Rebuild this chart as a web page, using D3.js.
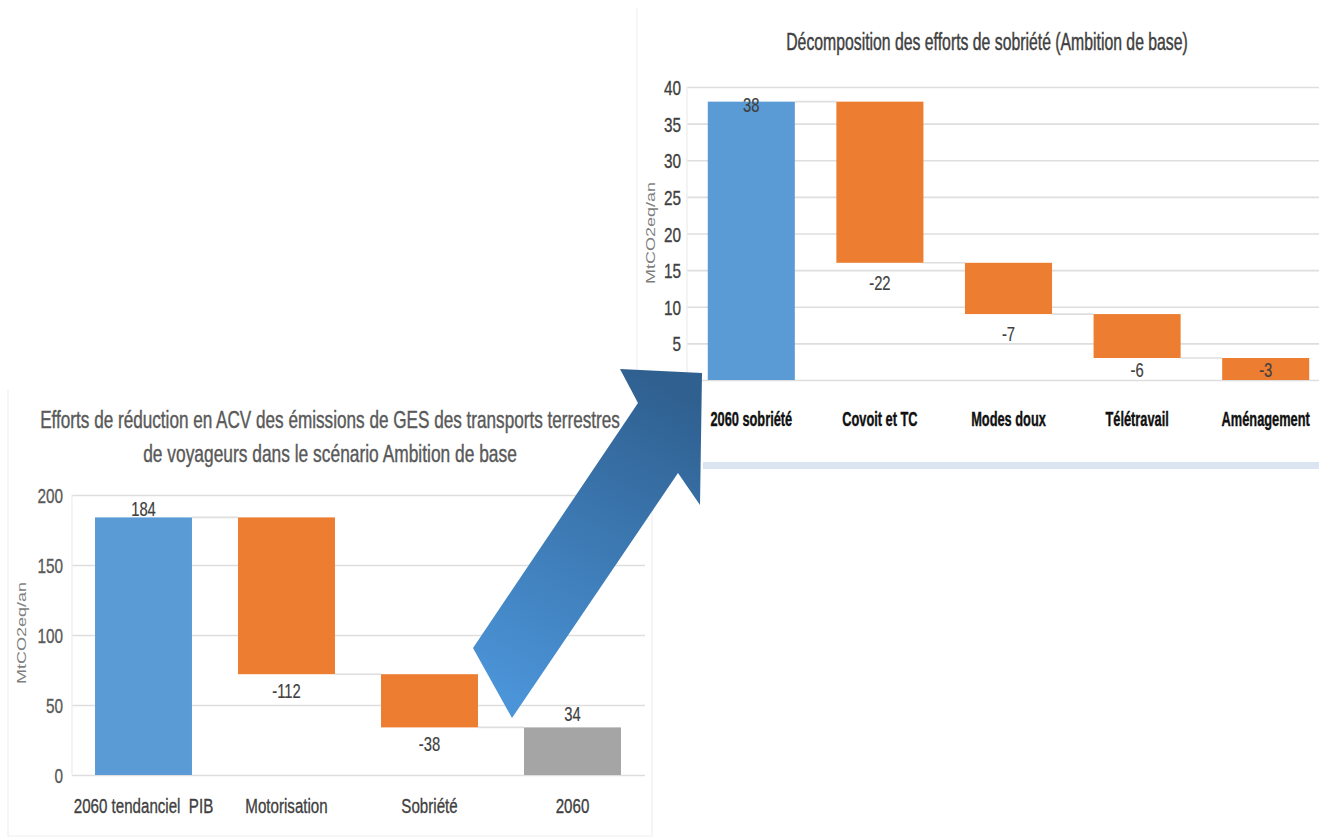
<!DOCTYPE html>
<html lang="fr">
<head>
<meta charset="utf-8">
<script src="https://cdn.jsdelivr.net/npm/d3@7"></script>
<style>
  html, body { margin: 0; padding: 0; background: #ffffff; }
  svg { display: block; }
  text { font-family: "Liberation Sans", Arial, sans-serif; white-space: pre; }
</style>
</head>
<body>
<svg id="chart" width="1319" height="838"></svg>
<script>
// Main waterfall: life-cycle GHG emissions of passenger land transport
const mainCategories = ["2060 tendanciel  PIB", "Motorisation", "Sobriété", "2060"];
const mainValues = [184, -112, -38, 34];
const mainKinds = ["total", "delta", "delta", "total"];
const mainTicks = [0, 50, 100, 150, 200];

// Detail waterfall: breakdown of the sobriety effort
const detailCategories = ["2060 sobriété", "Covoit et TC", "Modes doux", "Télétravail", "Aménagement"];
const detailValues = [38, -22, -7, -6, -3];
const detailKinds = ["total", "delta", "delta", "delta", "delta"];
const detailTicks = [0, 5, 10, 15, 20, 25, 30, 35, 40];

const unitLabel = "MtCO2eq/an";

const COLORS = { total: "#5b9bd5", delta: "#ed7d31", final: "#a5a5a5" };
const GRID = "#dedede";

const svg = d3.select("#chart");

// Build waterfall segments from the signed values
function waterfall(cats, vals, kinds) {
  let run = 0;
  return cats.map((c, i) => {
    const v = vals[i];
    let lo, hi;
    if (kinds[i] === "total") { lo = 0; hi = v; run = v; }
    else { const start = run; run = run + v; lo = Math.min(start, run); hi = Math.max(start, run); }
    return { cat: c, value: v, kind: kinds[i], lo, hi, end: run, index: i };
  });
}

// Tall, narrow lettering: a small font stretched vertically
function tall(sel, size, sx, x, y) {
  sel.attr("font-size", size * sx)
     .attr("transform", `translate(${x},${y}) scale(1,${(1 / sx).toFixed(4)})`);
  return sel;
}

function label(g, x, y, s, o) {
  const t = g.append("text")
    .attr("text-anchor", o.anchor || "middle")
    .attr("font-weight", o.weight || "normal")
    .attr("fill", o.fill || "#595959")
    .attr("stroke", o.fill || "#595959")
    .attr("stroke-width", o.stroke || 0.25)
    .text(s);
  tall(t, o.size, o.sx || 1, x, y);
  return t;
}

// Title lines: natural width measured, then squeezed to the wanted width
function title(g, x, y, s, width, size, fill) {
  const t = g.append("text")
    .attr("text-anchor", "middle")
    .attr("fill", fill).attr("stroke", fill).attr("stroke-width", 0.3)
    .attr("font-size", size)
    .text(s);
  const natural = t.node().getComputedTextLength();
  const sx = width / natural;
  tall(t, size, sx, x, y);
}

function drawWaterfall(cfg) {
  const g = svg.append("g");
  const data = waterfall(cfg.categories, cfg.values, cfg.kinds);

  const x = d3.scaleBand().domain(cfg.categories).range(cfg.xRange)
    .paddingInner(cfg.padding).paddingOuter(cfg.padding / 2);
  const y = d3.scaleLinear().domain(cfg.yDomain).range(cfg.yRange);

  // gridlines + tick labels
  const yAxis = d3.axisLeft(y).tickValues(cfg.ticks).tickSize(-(cfg.gridEnd - cfg.xRange[0])).tickPadding(0);
  const ga = g.append("g").attr("transform", `translate(${cfg.xRange[0]},0)`).call(yAxis);
  ga.select(".domain").remove();
  ga.selectAll(".tick line").attr("stroke", GRID).attr("stroke-width", 1.6);
  ga.selectAll(".tick text").each(function () {
    const t = d3.select(this)
      .attr("x", null).attr("dy", null)
      .attr("text-anchor", "end")
      .attr("font-family", "Liberation Sans, Arial, sans-serif")
      .attr("fill", cfg.tickColor).attr("stroke", cfg.tickColor).attr("stroke-width", 0.25);
    tall(t, 21, 0.73, cfg.tickRight - cfg.xRange[0], cfg.tickDy);
  });

  // vertical axis line
  g.append("line")
    .attr("x1", cfg.xRange[0]).attr("x2", cfg.xRange[0])
    .attr("y1", y(cfg.yDomain[1])).attr("y2", y(0))
    .attr("stroke", "#ececec").attr("stroke-width", 1.2);

  // connectors between consecutive bars
  g.selectAll("line.conn").data(data.slice(0, -1)).join("line")
    .attr("class", "conn")
    .attr("x1", d => x(d.cat) + x.bandwidth())
    .attr("x2", d => x(cfg.categories[d.index + 1]))
    .attr("y1", d => y(d.end)).attr("y2", d => y(d.end))
    .attr("stroke", GRID).attr("stroke-width", 1.6);

  // bars
  g.selectAll("rect.bar").data(data).join("rect")
    .attr("class", "bar")
    .attr("x", d => x(d.cat))
    .attr("width", x.bandwidth())
    .attr("y", d => y(d.hi))
    .attr("height", d => y(d.lo) - y(d.hi))
    .attr("fill", d => d.kind === "delta" ? COLORS.delta
      : (d.index === data.length - 1 && d.index > 0 ? COLORS.final : COLORS.total));

  // value labels
  data.forEach(d => {
    const cx = x(d.cat) + x.bandwidth() / 2;
    let by;
    if (d.kind === "total") by = y(d.hi) + cfg.totalDy[d.index === 0 ? 0 : 1];
    else by = Math.min(y(d.lo) + cfg.deltaGap, y(0) - 3);
    label(g, cx, by, String(d.value), { size: 20, sx: 0.74, fill: cfg.valueColor, stroke: 0.15 });
  });

  // category labels
  const xAxis = d3.axisBottom(x).tickSize(0).tickPadding(0);
  const gx = g.append("g").attr("transform", `translate(0,${cfg.catBaseline})`).call(xAxis);
  gx.select(".domain").remove();
  gx.selectAll(".tick text").each(function () {
    const t = d3.select(this)
      .attr("y", null).attr("dy", null)
      .attr("font-weight", cfg.catWeight)
      .attr("font-family", "Liberation Sans, Arial, sans-serif")
      .attr("fill", cfg.catColor).attr("stroke", cfg.catColor).attr("stroke-width", 0.25)
      .style("white-space", "pre");
    tall(t, 21, cfg.catSx, 0, 0);
  });

  // unit label
  g.append("text")
    .attr("transform", `translate(${cfg.unitPos[0]},${cfg.unitPos[1]}) rotate(-90) scale(1.5,1)`)
    .attr("text-anchor", "middle")
    .attr("dy", "0.35em")
    .attr("font-size", 12)
    .attr("font-family", "DejaVu Sans, Verdana, sans-serif")
    .attr("fill", "#7f7f7f")
    .text(unitLabel);

  // title lines
  cfg.title.forEach(t => title(g, t.x, t.y, t.text, t.len, 24, cfg.titleColor));
  return g;
}

// chart frames
svg.append("path").attr("d", "M8,390V836H652V468")
  .attr("fill", "none").attr("stroke", "#efefef").attr("stroke-width", 1.2);
svg.append("line").attr("x1", 637).attr("x2", 637).attr("y1", 8).attr("y2", 468)
  .attr("stroke", "#f0f0f0").attr("stroke-width", 1.2);
svg.append("rect").attr("x", 703).attr("y", 462).attr("width", 620).attr("height", 7)
  .attr("fill", "#dbe5f1");

drawWaterfall({
  categories: mainCategories, values: mainValues, kinds: mainKinds, ticks: mainTicks,
  xRange: [72, 644], padding: 0.322, gridEnd: 645,
  yDomain: [0, 200], yRange: [775, 495],
  tickRight: 63, tickDy: 7.5, tickColor: "#595959",
  totalDy: [-1, -6], deltaGap: 24, valueColor: "#404040",
  catBaseline: 813, catSx: 0.72, catWeight: "normal", catColor: "#404040",
  unitPos: [22, 633], titleColor: "#595959",
  title: [
    { text: "Efforts de réduction en ACV des émissions de GES des transports terrestres", x: 330, y: 428, len: 580 },
    { text: "de voyageurs dans le scénario Ambition de base", x: 330, y: 462, len: 374 }
  ]
});

drawWaterfall({
  categories: detailCategories, values: detailValues, kinds: detailKinds, ticks: detailTicks,
  xRange: [687, 1330], padding: 0.323, gridEnd: 1330,
  yDomain: [0, 40], yRange: [380, 87],
  tickRight: 681, tickDy: 7.5, tickColor: "#404040",
  totalDy: [10, 10], deltaGap: 27, valueColor: "#404040",
  catBaseline: 426, catSx: 0.61, catWeight: "bold", catColor: "#111111",
  unitPos: [651, 233], titleColor: "#404040",
  title: [
    { text: "Décomposition des efforts de sobriété (Ambition de base)", x: 987, y: 50, len: 402 }
  ]
});

// block arrow linking the sobriety bar to its breakdown
const defs = svg.append("defs");
const grad = defs.append("linearGradient").attr("id", "arrowFill")
  .attr("gradientUnits", "userSpaceOnUse")
  .attr("x1", 495).attr("y1", 690).attr("x2", 665).attr("y2", 385);
grad.append("stop").attr("offset", 0).attr("stop-color", "#4b94d8");
grad.append("stop").attr("offset", 1).attr("stop-color", "#2f6090");

const arrowShape = [[473, 648], [638, 403], [620, 369], [702, 373], [700, 505], [678, 473], [512, 718]];
svg.append("path")
  .attr("d", d3.line()(arrowShape) + "Z")
  .attr("fill", "url(#arrowFill)");
</script>
</body>
</html>
